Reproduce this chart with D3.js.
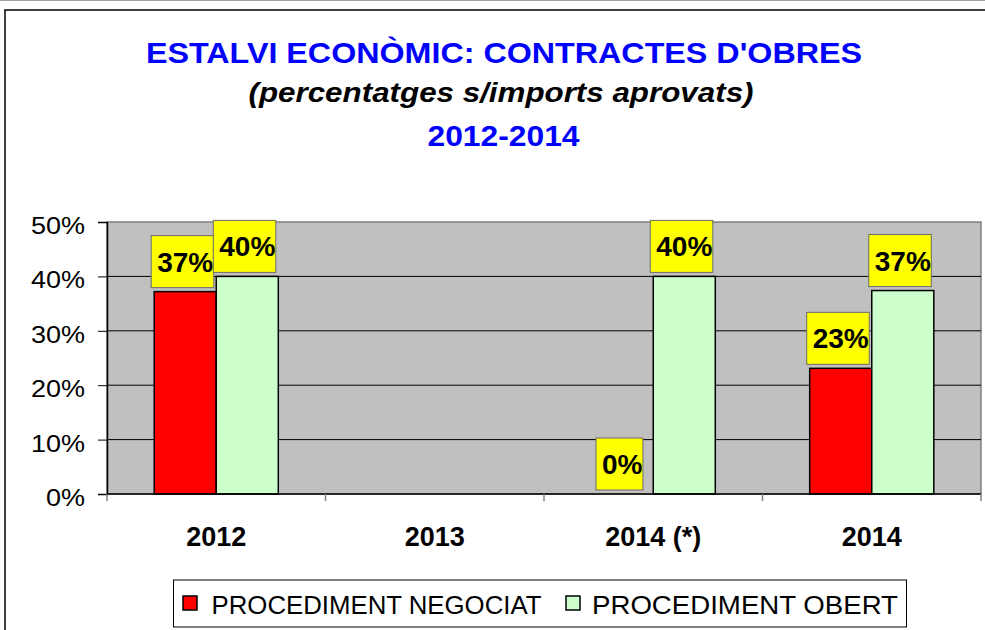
<!DOCTYPE html>
<html>
<head>
<meta charset="utf-8">
<script src="https://cdn.jsdelivr.net/npm/d3@7"></script>
<style>
  body { margin: 0; background: #fff; }
  svg { display: block; font-family: Arial, "Liberation Sans", Helvetica, sans-serif; }
</style>
</head>
<body>
<svg id="chart" width="985" height="630"></svg>
<script>
// ---- data ----
const categories = ["2012", "2013", "2014 (*)", "2014"];
const seriesNames = ["PROCEDIMENT NEGOCIAT", "PROCEDIMENT OBERT"];
const negociat = [0.372, null, 0, 0.231];
const obert = [0.40, null, 0.40, 0.374];
const yTicks = [0, 0.1, 0.2, 0.3, 0.4, 0.5];
const titleLines = ["ESTALVI ECONÒMIC: CONTRACTES D'OBRES", "(percentatges s/imports aprovats)", "2012-2014"];
const seriesColors = ["#FF0000", "#CCFFCC"];

const svg = d3.select("#chart");
const W = 985, H = 630;
const plot = { left: 107, right: 981, top: 222, bottom: 494 };

// outer frame
svg.append("line").attr("x1", 0).attr("x2", W).attr("y1", 0.5).attr("y2", 0.5)
  .attr("stroke", "#a0a0a0").attr("stroke-width", 1);
svg.append("rect").attr("x", 5).attr("y", 10).attr("width", W + 10).attr("height", H + 10)
  .attr("fill", "none").attr("stroke", "#000").attr("stroke-width", 1.5);

// titles
const t1 = svg.append("text").attr("x", 504).attr("y", 62.5).attr("text-anchor", "middle")
  .attr("font-size", 30).attr("font-weight", "bold").attr("fill", "#0000FF")
  .attr("textLength", 716).attr("lengthAdjust", "spacingAndGlyphs").text(titleLines[0]);
svg.append("text").attr("x", 501).attr("y", 102).attr("text-anchor", "middle")
  .attr("font-size", 28).attr("font-weight", "bold").attr("font-style", "italic").attr("fill", "#000")
  .attr("textLength", 505).attr("lengthAdjust", "spacingAndGlyphs").text(titleLines[1]);
svg.append("text").attr("x", 503.5).attr("y", 145.5).attr("text-anchor", "middle")
  .attr("font-size", 30).attr("font-weight", "bold").attr("fill", "#0000FF")
  .attr("textLength", 152).attr("lengthAdjust", "spacingAndGlyphs").text(titleLines[2]);

// scales
const x0 = d3.scaleBand().domain(categories).range([plot.left, plot.right]).padding(0);
const bw = x0.bandwidth();
const x1 = d3.scaleBand().domain(seriesNames).range([bw * 0.216, bw * 0.784]).padding(0);
const y = d3.scaleLinear().domain([0, 0.5]).range([plot.bottom, plot.top]);

// plot background
svg.append("rect").attr("x", plot.left).attr("y", plot.top)
  .attr("width", plot.right - plot.left).attr("height", plot.bottom - plot.top)
  .attr("fill", "#C0C0C0").attr("stroke", "#808080").attr("stroke-width", 1.5);

// gridlines
svg.append("g").selectAll("line").data(yTicks.filter(d => d > 0 && d < 0.5)).join("line")
  .attr("x1", plot.left).attr("x2", plot.right)
  .attr("y1", d => y(d)).attr("y2", d => y(d))
  .attr("stroke", "#000").attr("stroke-width", 1);

// bars
const rows = categories.map((c, i) => ({ cat: c, vals: [negociat[i], obert[i]] }));
const barData = [];
rows.forEach(r => r.vals.forEach((v, k) => {
  if (v !== null) barData.push({ cat: r.cat, series: seriesNames[k], k, v });
}));

svg.append("g").selectAll("rect").data(barData.filter(d => d.v > 0)).join("rect")
  .attr("x", d => x0(d.cat) + x1(d.series))
  .attr("y", d => y(d.v))
  .attr("width", x1.bandwidth())
  .attr("height", d => y(0) - y(d.v))
  .attr("fill", d => seriesColors[d.k])
  .attr("stroke", "#000").attr("stroke-width", 1.5);

// y axis
const yAxis = d3.axisLeft(y).tickValues(yTicks).tickFormat(d3.format(".0%"))
  .tickSize(9).tickPadding(13);
const gy = svg.append("g").attr("transform", `translate(${plot.left},0)`).call(yAxis);
gy.select(".domain").attr("stroke", "#000").attr("stroke-width", 1.5);
gy.selectAll(".tick line").attr("stroke", "#000").attr("stroke-width", 1);
gy.selectAll(".tick text").attr("font-size", 23).attr("fill", "#000")
  .attr("font-family", "Arial, 'Liberation Sans', sans-serif")
  .attr("dy", "0.5em")
  .each(function () {
    const w = this.getComputedTextLength();
    d3.select(this).attr("textLength", w * 27 / 23).attr("lengthAdjust", "spacingAndGlyphs");
  });

// x axis baseline + category separators
svg.append("line").attr("x1", plot.left).attr("x2", plot.right)
  .attr("y1", plot.bottom).attr("y2", plot.bottom)
  .attr("stroke", "#000").attr("stroke-width", 1.5);
const seps = categories.map(c => x0(c)).concat([plot.right]);
svg.append("g").selectAll("line").data(seps).join("line")
  .attr("x1", d => d).attr("x2", d => d)
  .attr("y1", plot.bottom).attr("y2", plot.bottom + 7)
  .attr("stroke", "#808080").attr("stroke-width", 1.5);

svg.append("g").selectAll("text").data(categories).join("text")
  .attr("x", d => x0(d) + bw / 2).attr("y", 546)
  .attr("text-anchor", "middle").attr("font-size", 27).attr("font-weight", "bold")
  .attr("fill", "#000").text(d => d);

// value labels
const fmt = d3.format(".0%");
const lbl = svg.append("g").selectAll("g").data(barData).join("g");
lbl.each(function (d) {
  const g = d3.select(this);
  const cx = x0(d.cat) + x1(d.series) + x1.bandwidth() / 2;
  const boxBottom = y(d.v) - 4;
  const boxH = 52;
  const rect = g.append("rect");
  const t = g.append("text").attr("x", cx).attr("y", boxBottom - boxH / 2 + 10)
    .attr("text-anchor", "middle").attr("font-size", 28).attr("font-weight", "bold")
    .attr("fill", "#000").text(fmt(d.v));
  const tw = t.node().getComputedTextLength();
  rect.attr("x", cx - tw / 2 - 6).attr("y", boxBottom - boxH)
    .attr("width", tw + 6.5).attr("height", boxH)
    .attr("fill", "#FFFF00").attr("stroke", "#6b6b6b").attr("stroke-width", 1);
});

// legend
const lg = svg.append("g");
lg.append("rect").attr("x", 173.5).attr("y", 580).attr("width", 733).attr("height", 47)
  .attr("fill", "#fff").attr("stroke", "#000").attr("stroke-width", 1);
const legendItems = [
  { name: seriesNames[0], color: seriesColors[0], sx: 183, tx: 211.5, len: 330 },
  { name: seriesNames[1], color: seriesColors[1], sx: 566, tx: 592, len: 306 }
];
legendItems.forEach(it => {
  lg.append("rect").attr("x", it.sx).attr("y", 596).attr("width", 14).attr("height", 14)
    .attr("fill", it.color).attr("stroke", "#000").attr("stroke-width", 1.5);
  lg.append("text").attr("x", it.tx).attr("y", 613.5).attr("font-size", 25).attr("fill", "#000")
    .attr("textLength", it.len).attr("lengthAdjust", "spacingAndGlyphs").text(it.name);
});
</script>
</body>
</html>
